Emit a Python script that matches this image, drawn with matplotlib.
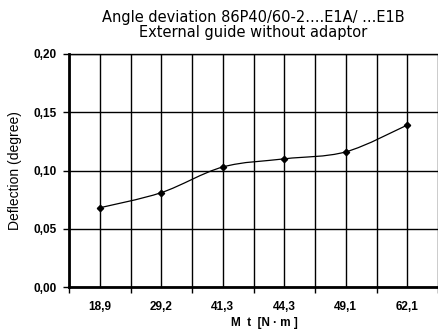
import matplotlib.pyplot as plt
from matplotlib.path import Path
from matplotlib.patches import PathPatch
import numpy as np

categories = ["18,9", "29,2", "41,3", "44,3", "49,1", "62,1"]
deflection = [0.068, 0.081, 0.103, 0.110, 0.116, 0.139]
y_ticks = [0.00, 0.05, 0.10, 0.15, 0.20]
y_tick_labels = ["0,00", "0,05", "0,10", "0,15", "0,20"]

title = "Angle deviation 86P40/60-2....E1A/ ...E1B\nExternal guide without adaptor"
x_label = "M  t  [N · m ]"
y_label = "Deflection (degree)"

tick_font = ["Liberation Sans", "DejaVu Sans"]
title_font = ["DejaVu Sans"]
label_font = ["Liberation Sans", "DejaVu Sans"]


def smooth_path(xs, ys, tension=0.5):
    # Catmull-Rom style bezier, like the spreadsheet "smoothed line"
    xs = np.asarray(xs, float)
    ys = np.asarray(ys, float)
    verts = [(xs[0], ys[0])]
    codes = [Path.MOVETO]
    n = len(xs)
    for i in range(n - 1):
        p0 = i - 1 if i > 0 else i
        p3 = i + 2 if i + 2 < n else i + 1
        c1 = (xs[i] + (xs[i + 1] - xs[p0]) * tension / 3,
              ys[i] + (ys[i + 1] - ys[p0]) * tension / 3)
        c2 = (xs[i + 1] - (xs[p3] - xs[i]) * tension / 3,
              ys[i + 1] - (ys[p3] - ys[i]) * tension / 3)
        verts += [c1, c2, (xs[i + 1], ys[i + 1])]
        codes += [Path.CURVE4] * 3
    return Path(verts, codes)


fig = plt.figure(figsize=(4.38, 3.29), dpi=100)
ax = fig.add_axes([69 / 438, 1 - 287 / 329, 1 - 69 / 438, (287 - 54) / 329])

x = np.arange(len(categories))
ax.add_patch(PathPatch(smooth_path(x, deflection), fill=False, color="black", lw=0.9, zorder=3))
ax.plot(x, deflection, linestyle="none", marker="D", markersize=3.2, color="black", zorder=4)

ax.set_xlim(-0.5, len(categories) - 0.5)
ax.set_ylim(0, 0.2)

ax.set_xticks(x)
ax.set_xticklabels(categories, family=tick_font, fontweight="bold", fontsize=8.5)
ax.set_xticks(np.arange(-0.5, len(categories), 1.0), minor=True)
ax.tick_params(axis="x", which="major", length=0, pad=10)
ax.tick_params(axis="x", which="minor", length=4, width=1, direction="out")

ax.set_yticks(y_ticks)
ax.set_yticklabels(y_tick_labels, family=tick_font, fontweight="bold", fontsize=8.5)
ax.tick_params(axis="y", length=4, width=1, direction="out", pad=5)

ax.grid(True, which="both", axis="x", color="black", lw=1)
ax.grid(True, which="major", axis="y", color="black", lw=1)
ax.set_axisbelow(True)

for side in ["left", "bottom"]:
    ax.spines[side].set_linewidth(2)
ax.spines["top"].set_linewidth(1)
ax.spines["right"].set_visible(False)

ax.set_title(title, family=title_font, fontsize=10.5, pad=12, linespacing=1.05)
ax.set_xlabel(x_label, family=tick_font, fontweight="bold", fontsize=8.5)
ax.xaxis.set_label_coords(0.53, -0.128)
ax.set_ylabel(y_label, family=label_font, fontsize=10)
ax.yaxis.set_label_coords(-0.128, 0.5)

fig.savefig("out.png", dpi=100)
